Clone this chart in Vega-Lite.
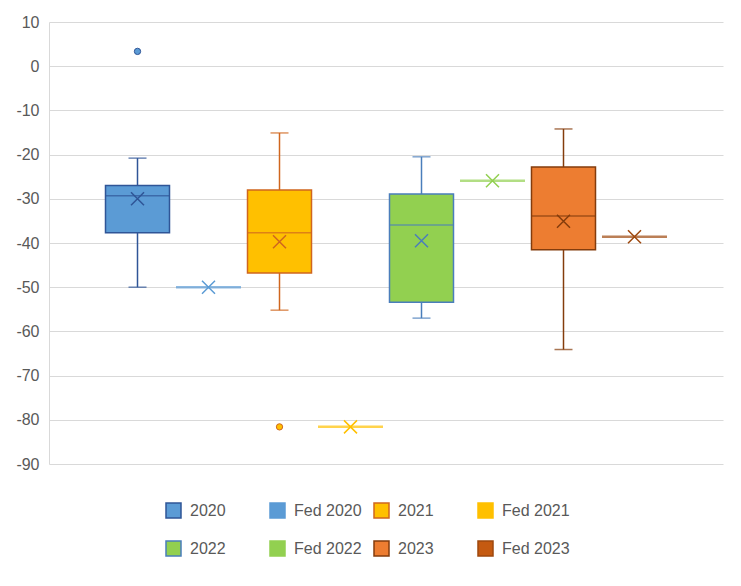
{
  "$schema": "https://vega.github.io/schema/vega-lite/v6.json",
  "width": 677,
  "height": 442,
  "autosize": {"type": "none"},
  "padding": {"left": 49, "top": 22, "right": 15, "bottom": 122},
  "background": "white",
  "config": {
    "view": {"stroke": null},
    "font": "Liberation Sans",
    "axisY": {
      "grid": true,
      "gridColor": "#D9D9D9",
      "gridWidth": 1,
      "domain": true,
      "domainColor": "#D9D9D9",
      "domainWidth": 1,
      "ticks": false,
      "labelFont": "Liberation Sans",
      "labelFontSize": 16,
      "labelColor": "#595959",
      "labelPadding": 10
    },
    "legend": {
      "padding": 0,
      "labelFont": "Liberation Sans",
      "labelFontSize": 16,
      "labelColor": "#595959",
      "labelOffset": 8,
      "symbolSize": 225,
      "symbolType": "square",
      "symbolStrokeWidth": 1.5
    }
  },
  "datasets": {
    "boxes": [
      {"series": "2020", "lower": -50.0, "q1": -37.7, "median": -29.3, "q3": -27.0, "upper": -20.8, "mean": -30.0},
      {"series": "2021", "lower": -55.2, "q1": -46.8, "median": -37.7, "q3": -28.0, "upper": -15.1, "mean": -39.7},
      {"series": "2022", "lower": -57.0, "q1": -53.4, "median": -35.9, "q3": -28.9, "upper": -20.5, "mean": -39.5},
      {"series": "2023", "lower": -64.1, "q1": -41.5, "median": -33.9, "q3": -22.8, "upper": -14.2, "mean": -35.1}
    ],
    "fed": [
      {"series": "Fed 2020", "value": -50.0},
      {"series": "Fed 2021", "value": -81.6},
      {"series": "Fed 2022", "value": -25.9},
      {"series": "Fed 2023", "value": -38.6}
    ],
    "outliers": [
      {"series": "2020", "value": 3.35},
      {"series": "2021", "value": -81.6}
    ]
  },
  "layer": [
    {
      "data": {"name": "boxes"},
      "mark": {"type": "rule", "strokeWidth": 1.5},
      "encoding": {
        "x": {"field": "series", "type": "nominal", "axis": null,
              "scale": {"domain": ["2020","Fed 2020","2021","Fed 2021","2022","Fed 2022","2023","Fed 2023"], "range": [0, 674], "paddingInner": 0.0986, "paddingOuter": 0.7958}},
        "y": {"field": "lower", "type": "quantitative", "title": null,
              "scale": {"domain": [-90, 10], "nice": false, "zero": false},
              "axis": {"values": [-90,-80,-70,-60,-50,-40,-30,-20,-10,0,10],
                       "labelExpr": "datum.value < 0 ? '-' + abs(datum.value) : '' + datum.value"}},
        "y2": {"field": "upper"},
        "color": {"field": "series", "type": "nominal", "legend": null,
                  "scale": {"domain": ["Fed 2023","2023","Fed 2022","2022","Fed 2021","2021","Fed 2020","2020"],
                            "range": ["#9E480E","#843C0C","#92D050","#4A7EBB","#FFC000","#D0661E","#5B9BD5","#2F5597"]}}
      }
    },
    {
      "data": {"name": "boxes"},
      "mark": {"type": "tick", "size": 18, "thickness": 1.5, "orient": "horizontal"},
      "encoding": {
        "x": {"field": "series", "type": "nominal", "axis": null},
        "y": {"field": "lower", "type": "quantitative", "title": null},
        "color": {"field": "series", "type": "nominal", "legend": null}
      }
    },
    {
      "data": {"name": "boxes"},
      "mark": {"type": "tick", "size": 18, "thickness": 1.5, "orient": "horizontal"},
      "encoding": {
        "x": {"field": "series", "type": "nominal", "axis": null},
        "y": {"field": "upper", "type": "quantitative", "title": null},
        "color": {"field": "series", "type": "nominal", "legend": null}
      }
    },
    {
      "data": {"name": "boxes"},
      "mark": {"type": "bar", "strokeWidth": 0},
      "encoding": {
        "x": {"field": "series", "type": "nominal", "axis": null},
        "y": {"field": "q1", "type": "quantitative", "title": null},
        "y2": {"field": "q3"},
        "fill": {"field": "series", "type": "nominal", "title": null,
                 "scale": {"domain": ["2020","Fed 2020","2021","Fed 2021","2022","Fed 2022","2023","Fed 2023"],
                           "range": ["#5B9BD5","#5B9BD5","#FFC000","#FFC000","#92D050","#92D050","#ED7D31","#C55A11"]},
                 "legend": {"orient": "none", "direction": "horizontal", "legendX": 116, "legendY": 480, "columns": 4, "gridAlign": "all",
                            "columnPadding": 9, "rowPadding": 17, "title": null, "symbolType": "square",
                            "encode": {"symbols": {"update": {"stroke": {"scale": "color", "field": "value"}, "strokeWidth": {"value": 1.5}}}}}}
      }
    },
    {
      "data": {"name": "boxes"},
      "mark": {"type": "bar", "filled": false, "strokeWidth": 1.5},
      "encoding": {
        "x": {"field": "series", "type": "nominal", "axis": null},
        "y": {"field": "q1", "type": "quantitative", "title": null},
        "y2": {"field": "q3"},
        "color": {"field": "series", "type": "nominal", "legend": null}
      }
    },
    {
      "data": {"name": "boxes"},
      "mark": {"type": "tick", "size": 64, "thickness": 1.5, "orient": "horizontal"},
      "encoding": {
        "x": {"field": "series", "type": "nominal", "axis": null},
        "y": {"field": "median", "type": "quantitative", "title": null},
        "color": {"field": "series", "type": "nominal", "legend": null}
      }
    },
    {
      "data": {"name": "boxes"},
      "mark": {"type": "point", "shape": "M-1,-1L1,1M-1,1L1,-1", "size": 169, "strokeWidth": 1.5, "filled": false, "opacity": 1},
      "encoding": {
        "x": {"field": "series", "type": "nominal", "axis": null},
        "y": {"field": "mean", "type": "quantitative", "title": null},
        "color": {"field": "series", "type": "nominal", "legend": null}
      }
    },
    {
      "data": {"name": "fed"},
      "mark": {"type": "tick", "size": 65, "thickness": 2.5, "orient": "horizontal"},
      "encoding": {
        "x": {"field": "series", "type": "nominal", "axis": null},
        "y": {"field": "value", "type": "quantitative", "title": null},
        "color": {"field": "series", "type": "nominal", "legend": null}
      }
    },
    {
      "data": {"name": "fed"},
      "mark": {"type": "point", "shape": "M-1,-1L1,1M-1,1L1,-1", "size": 169, "strokeWidth": 1.5, "filled": false, "opacity": 1},
      "encoding": {
        "x": {"field": "series", "type": "nominal", "axis": null},
        "y": {"field": "value", "type": "quantitative", "title": null},
        "color": {"field": "series", "type": "nominal", "legend": null}
      }
    },
    {
      "data": {"name": "outliers"},
      "mark": {"type": "point", "shape": "circle", "size": 40, "strokeWidth": 0, "filled": true, "opacity": 1},
      "encoding": {
        "x": {"field": "series", "type": "nominal", "axis": null},
        "y": {"field": "value", "type": "quantitative", "title": null},
        "fill": {"field": "series", "type": "nominal", "title": null}
      }
    },
    {
      "data": {"name": "outliers"},
      "mark": {"type": "point", "shape": "circle", "size": 40, "strokeWidth": 1, "filled": false, "opacity": 1},
      "encoding": {
        "x": {"field": "series", "type": "nominal", "axis": null},
        "y": {"field": "value", "type": "quantitative", "title": null},
        "color": {"field": "series", "type": "nominal", "legend": null}
      }
    }
  ]
}
